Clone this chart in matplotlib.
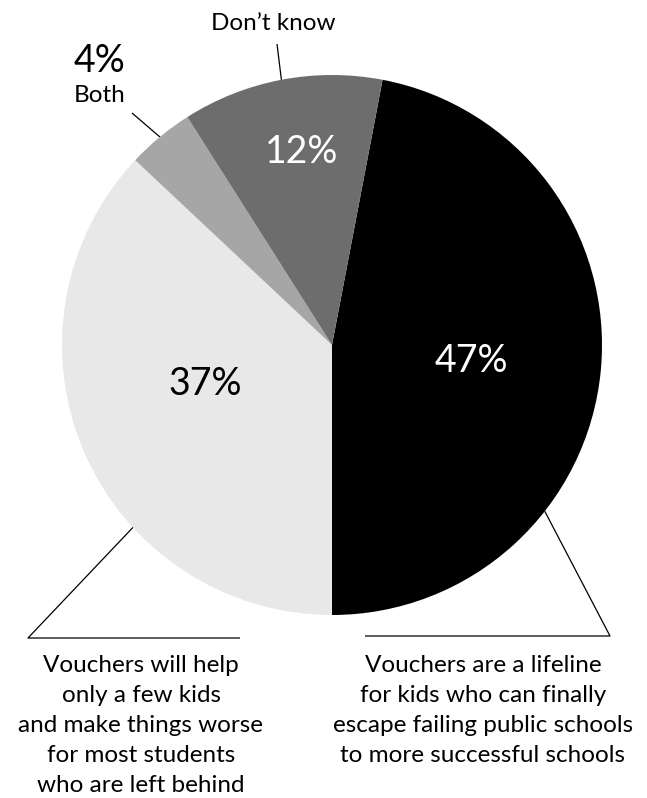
import matplotlib

matplotlib.use("Agg")
import matplotlib.pyplot as plt
import numpy as np

# survey shares, clockwise from the top-right
labels = ["lifeline", "worse", "both", "dont_know"]
shares = [47, 37, 4, 12]
colors = ["#000000", "#e8e8e8", "#a6a6a6", "#6d6d6d"]
pct_text = [f"{s}%" for s in shares]

left_caption = ["Vouchers will help", "only a few kids", "and make things worse",
                "for most students", "who are left behind"]
right_caption = ["Vouchers are a lifeline", "for kids who can finally",
                 "escape failing public schools", "to more successful schools"]

W, H = 647, 798
plt.rcParams["font.family"] = ["Lato", "DejaVu Sans"]

fig = plt.figure(figsize=(W / 100, H / 100), dpi=100)
ax = fig.add_axes([0, 0, 1, 1])

cx, cy, R = 332, H - 345, 270
# black slice ends at straight down
start = -90 + shares[0] * 3.6
wedges, _ = ax.pie(shares, colors=colors, startangle=start, counterclock=False,
                   center=(cx, cy), radius=R, wedgeprops=dict(linewidth=0))
ax.set_xlim(0, W); ax.set_ylim(0, H)
ax.set_aspect("equal"); ax.axis("off")


def edge(angle, r=R):
    a = np.deg2rad(angle)
    return cx + r * np.cos(a), cy + r * np.sin(a)


def mid(w):
    return (w.theta1 + w.theta2) / 2


def y(px):
    return H - px


lk = dict(color="black", lw=0.9, solid_capstyle="butt")
pct = dict(fontsize=27, ha="center", va="baseline")
lab = dict(fontsize=17.5, ha="center", va="baseline")

# percentages inside the pie
ax.text(471, y(372), pct_text[0], color="white", **pct)
ax.text(205, y(395), pct_text[1], color="black", **pct)
ax.text(302, y(163), pct_text[3], color="white", **pct)

# top callouts
x0, y0 = edge(mid(wedges[3]))
ax.plot([x0, 277], [y0, y(44)], **lk)
ax.text(273, y(30), "Don\u2019t know", **lab)

x0, y0 = edge(mid(wedges[2]))
ax.plot([x0, 132], [y0, y(113)], **lk)
ax.text(100, y(72), pct_text[2], **pct)
ax.text(100, y(102), "Both", **lab)

# bottom callouts with elbow leaders
x0, y0 = edge(222.5)
ax.plot([x0, 28, 240], [y0, y(638), y(638)], **lk)
x0, y0 = edge(-38)
ax.plot([x0, 610, 365], [y0, y(636), y(636)], **lk)

for i, line in enumerate(left_caption):
    ax.text(141, y(672 + 30 * i), line, **lab)
for i, line in enumerate(right_caption):
    ax.text(483, y(672 + 30 * i), line, **lab)

fig.savefig("out.png", dpi=100)
plt.close(fig)
